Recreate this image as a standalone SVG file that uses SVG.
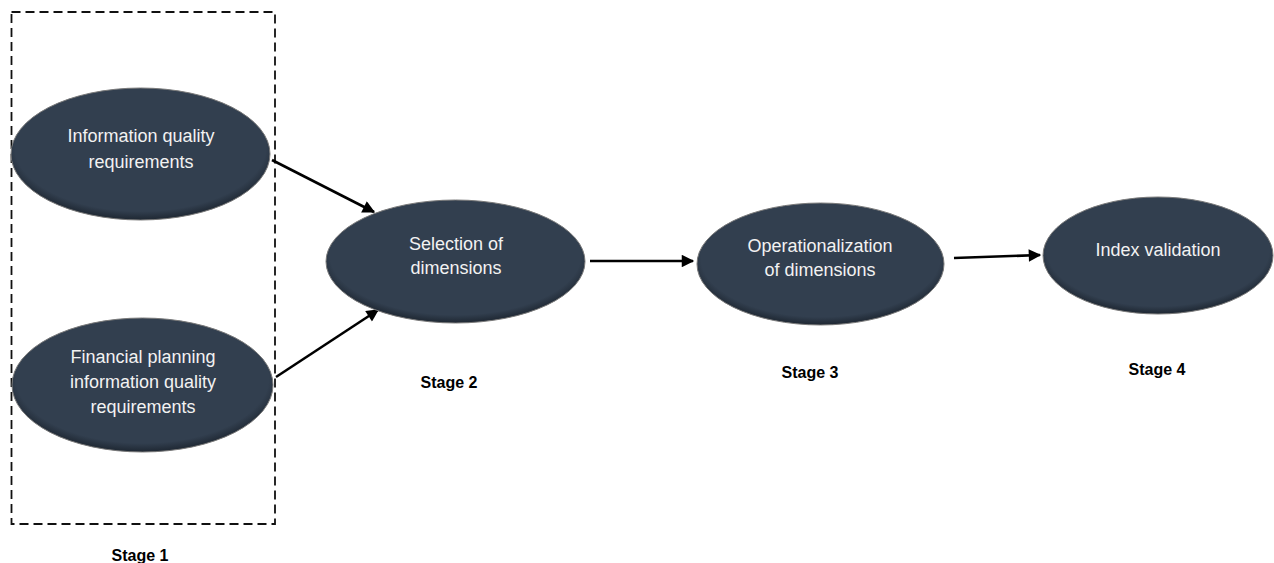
<svg xmlns="http://www.w3.org/2000/svg" width="1274" height="563" viewBox="0 0 1274 563">
<style>
.node{fill:url(#nodeGrad);stroke:#7a7a7a;stroke-width:1}
.lbl{font-family:"Liberation Sans",Arial,sans-serif;font-size:18px;fill:#f2f2f2;text-anchor:middle}
.stage{font-family:"Liberation Sans",Arial,sans-serif;font-size:16px;font-weight:bold;fill:#000;text-anchor:middle}
.conn{stroke:#000;stroke-width:2.6;fill:none;marker-end:url(#arrow)}
</style>
<defs>
<radialGradient id="nodeGrad" cx="50%" cy="45%" r="55%">
<stop offset="0%" stop-color="#323F4F"/>
<stop offset="88%" stop-color="#323F4F"/>
<stop offset="100%" stop-color="#1E2732"/>
</radialGradient>
<marker id="arrow" viewBox="0 0 10 10" refX="9" refY="5" markerWidth="5.5" markerHeight="4.8" orient="auto" markerUnits="strokeWidth">
<path d="M0,0 L10,5 L0,10 Z" fill="#000"/>
</marker>
</defs>
<rect width="1274" height="563" fill="#fff"/>
<g id="stage1-box">
<rect x="11.5" y="12" width="263.5" height="512" fill="none" stroke="#111" stroke-width="1.8" stroke-dasharray="9,5"/>
</g>
<g id="connectors">
<line class="conn" x1="272" y1="160" x2="374" y2="212"/>
<line class="conn" x1="276" y1="377" x2="378" y2="310"/>
<line class="conn" x1="590" y1="261" x2="693" y2="261"/>
<line class="conn" x1="954" y1="258" x2="1040" y2="255"/>
</g>
<g id="node-info-quality">
<ellipse class="node" cx="140.5" cy="154" rx="129.5" ry="66"/>
<text class="lbl" x="141" y="142">Information quality</text>
<text class="lbl" x="141" y="168">requirements</text>
</g>
<g id="node-financial">
<ellipse class="node" cx="142.5" cy="385" rx="130.5" ry="67"/>
<text class="lbl" x="143" y="363">Financial planning</text>
<text class="lbl" x="143" y="388">information quality</text>
<text class="lbl" x="143" y="413">requirements</text>
</g>
<g id="node-selection">
<ellipse class="node" cx="455.5" cy="261.5" rx="129.5" ry="61.5"/>
<text class="lbl" x="456" y="250">Selection of</text>
<text class="lbl" x="456" y="274">dimensions</text>
</g>
<g id="node-operationalization">
<ellipse class="node" cx="820.5" cy="264" rx="123.5" ry="61"/>
<text class="lbl" x="820" y="252">Operationalization</text>
<text class="lbl" x="820" y="276">of dimensions</text>
</g>
<g id="node-index">
<ellipse class="node" cx="1158" cy="255.5" rx="115" ry="58.5"/>
<text class="lbl" x="1158" y="256">Index validation</text>
</g>
<g id="stage-labels">
<text class="stage" x="140" y="561">Stage 1</text>
<text class="stage" x="449" y="388">Stage 2</text>
<text class="stage" x="810" y="378">Stage 3</text>
<text class="stage" x="1157" y="375">Stage 4</text>
</g>
</svg>
